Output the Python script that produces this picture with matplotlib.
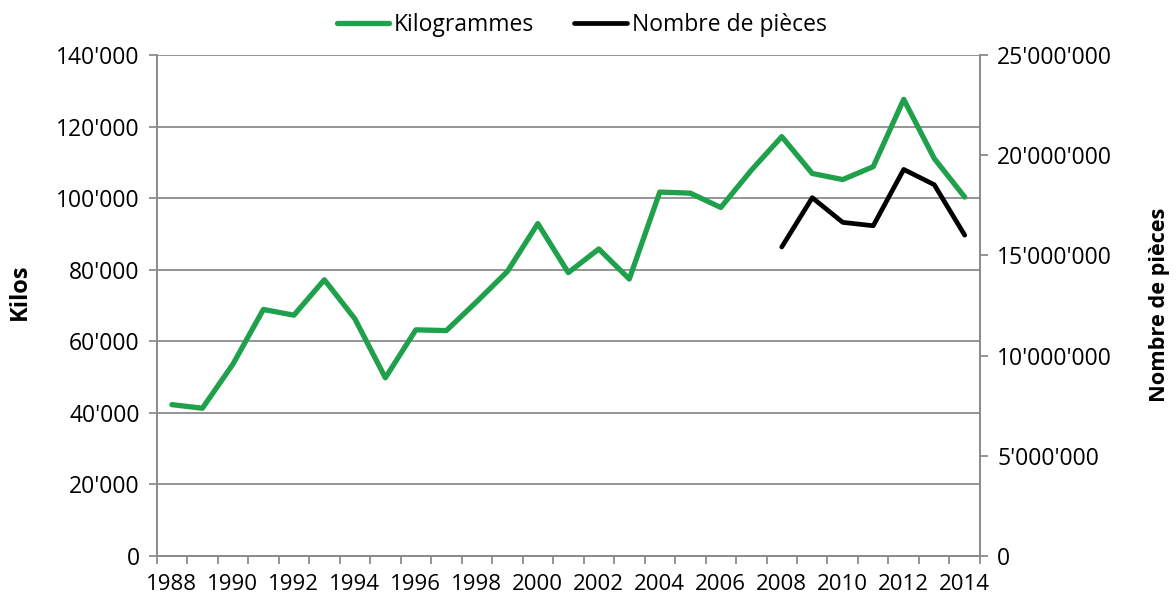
import matplotlib.pyplot as plt
import matplotlib.ticker as ticker
import numpy as np

years = list(range(1988, 2015))
kilos = [42300, 41300, 53600, 68900, 67300, 77200, 66300, 49800, 63200, 63000,
         71100, 79500, 92900, 79200, 85800, 77400, 101700, 101400, 97400, 107800,
         117200, 106900, 105200, 108800, 127600, 111100, 100300]
piece_years = list(range(2008, 2015))
pieces = [15420000, 17880000, 16650000, 16480000, 19290000, 18530000, 16010000]

plt.rcParams['font.family'] = ['Open Sans', 'DejaVu Sans']
grey = '#8c8c8c'
green = '#1fa04a'
fs = 16.5

fig = plt.figure(figsize=(11.76, 6), dpi=100)
ax = fig.add_axes([0.1332, 0.0733, 0.7001, 0.835])
ax2 = ax.twinx()

l1, = ax.plot(years, kilos, color=green, lw=3.8, solid_capstyle='round',
              solid_joinstyle='round', label='Kilogrammes')
l2, = ax2.plot(piece_years, pieces, color='black', lw=3.4, solid_capstyle='round',
               solid_joinstyle='round', label='Nombre de pièces')

ax.set_xlim(1987.5, 2014.5)
ax.set_ylim(0, 140000)
ax2.set_ylim(0, 25000000)

fmt = ticker.FuncFormatter(lambda v, pos: '{:,.0f}'.format(v).replace(',', "'"))
ax.yaxis.set_major_locator(ticker.MultipleLocator(20000))
ax.yaxis.set_major_formatter(fmt)
ax2.yaxis.set_major_locator(ticker.MultipleLocator(5000000))
ax2.yaxis.set_major_formatter(fmt)

ax.set_xticks(np.arange(1988, 2015, 2))
ax.set_xticks(np.arange(1987.5, 2015, 1), minor=True)
ax.tick_params(axis='x', which='major', length=0, labelsize=16, pad=13)
ax.tick_params(axis='x', which='minor', length=6, color=grey, width=1.3)
ax.tick_params(axis='y', length=5.8, color=grey, width=1.3, labelsize=fs, pad=6.5)
ax2.tick_params(axis='y', length=5.8, color=grey, width=1.3, labelsize=fs, pad=6.5)

ax.grid(axis='y', color=grey, lw=1.3)
ax.set_axisbelow(True)
for a in (ax, ax2):
    a.spines['top'].set_visible(False)
    for s in ('left', 'right', 'bottom'):
        a.spines[s].set_color(grey)
        a.spines[s].set_linewidth(1.3)

fig.text(0.017, 0.513, 'Kilos', rotation=90, ha='center', va='center',
         fontsize=17, fontweight='bold')
fig.text(0.986, 0.492, 'Nombre de pièces', rotation=90, ha='center', va='center',
         fontsize=15.7, fontweight='bold')

fig.legend(handles=[l1, l2], loc='center', bbox_to_anchor=(0.4945, 0.958), ncol=2,
           frameon=False, fontsize=fs, handlelength=2.3, handletextpad=0.2,
           columnspacing=1.75, borderpad=0, borderaxespad=0)

fig.savefig('out.png', dpi=100)
